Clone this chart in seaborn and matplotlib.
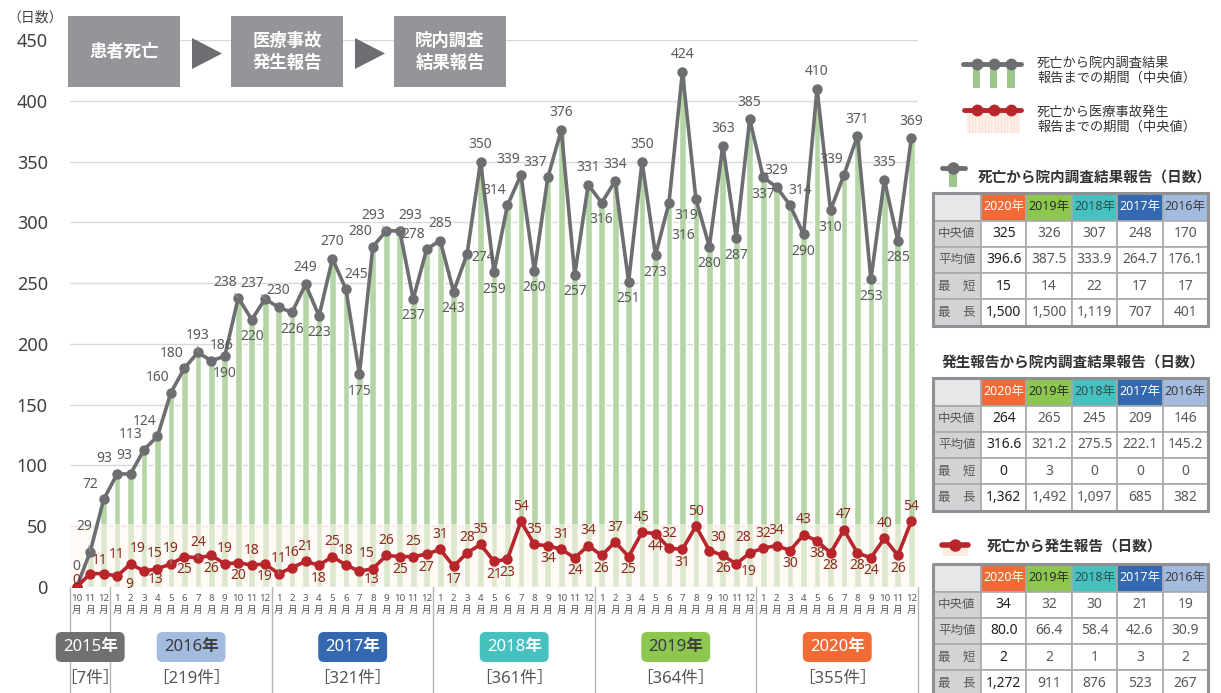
import numpy as np
import pandas as pd
import matplotlib
matplotlib.use("Agg")
import matplotlib.pyplot as plt
import matplotlib.transforms as mtransforms
from matplotlib.patches import Rectangle, Polygon
import seaborn as sns

# ---------------- data ----------------
months = [10, 11, 12] + list(range(1, 13)) * 5

# 死亡から院内調査結果報告までの期間（中央値）
death_to_result = [0, 29, 72,
                   93, 93, 113, 124, 160, 180, 193, 186, 190, 238, 220, 237,
                   230, 226, 249, 223, 270, 245, 175, 280, 293, 293, 237, 278,
                   285, 243, 274, 350, 259, 314, 339, 260, 337, 376, 257, 331,
                   316, 334, 251, 350, 273, 316, 424, 319, 280, 363, 287, 385,
                   337, 329, 314, 290, 410, 310, 339, 371, 253, 335, 285, 369]

# 死亡から医療事故発生報告までの期間（中央値）
death_to_incident = [0, 11, 11,
                     9, 19, 13, 15, 19, 25, 24, 26, 19, 20, 18, 19,
                     11, 16, 21, 18, 25, 18, 13, 15, 26, 25, 25, 27,
                     31, 17, 28, 35, 21, 23, 54, 35, 34, 31, 24, 34,
                     26, 37, 25, 45, 44, 32, 31, 50, 30, 26, 19, 28,
                     32, 34, 30, 43, 38, 28, 47, 28, 24, 40, 26, 54]

year_labels = ["2015年", "2016年", "2017年", "2018年", "2019年", "2020年"]
year_counts = ["［7件］", "［219件］", "［321件］", "［361件］", "［364件］", "［355件］"]
year_month_counts = [3, 12, 12, 12, 12, 12]

table_years = ["2020年", "2019年", "2018年", "2017年", "2016年"]
row_labels = ["中央値", "平均値", "最　短", "最　長"]
table1_title = "死亡から院内調査結果報告（日数）"
table1 = [["325", "326", "307", "248", "170"],
          ["396.6", "387.5", "333.9", "264.7", "176.1"],
          ["15", "14", "22", "17", "17"],
          ["1,500", "1,500", "1,119", "707", "401"]]
table2_title = "発生報告から院内調査結果報告（日数）"
table2 = [["264", "265", "245", "209", "146"],
          ["316.6", "321.2", "275.5", "222.1", "145.2"],
          ["0", "3", "0", "0", "0"],
          ["1,362", "1,492", "1,097", "685", "382"]]
table3_title = "死亡から発生報告（日数）"
table3 = [["34", "32", "30", "21", "19"],
          ["80.0", "66.4", "58.4", "42.6", "30.9"],
          ["2", "2", "1", "3", "2"],
          ["1,272", "911", "876", "523", "267"]]

legend1 = "死亡から院内調査結果\n報告までの期間（中央値）"
legend2 = "死亡から医療事故発生\n報告までの期間（中央値）"
flow_steps = ["患者死亡", "医療事故\n発生報告", "院内調査\n結果報告"]

# ---------------- styles ----------------
GREY = "#6d6e71"
GREEN = "#b5d5a6"
RED = "#b8262c"
RED_TXT = "#8c2a1e"
GREY_TXT = "#5a5a5a"
year_bg = ["#707072", "#a3bbdf", "#3468b0", "#47c1c0", "#8dc750", "#f26a35"]
year_fg = ["white", "#3c3c3c", "white", "white", "#3c3c3c", "white"]
head_bg = ["#f26a35", "#8dc750", "#47c1c0", "#3468b0", "#a3bbdf"]
head_fg = ["white", "#2b2b2b", "#2f4f4f", "white", "#3c3c3c"]

grey_pos = (['a0', 'al2', 'al'] +
            ['al', 'al3', 'al', 'al', 'al', 'al', 'a', 'ar', 'b', 'al', 'b', 'al'] +
            ['a', 'b', 'a', 'b', 'a', 'ar', 'b', 'al', 'al', 'ar', 'b', 'al'] +
            ['a', 'b', 'r', 'a', 'b', 'al', 'al', 'b', 'al', 'a', 'b', 'a'] +
            ['b', 'a', 'b', 'a', 'b', 'br2', 'a', 'bl', 'b', 'a', 'b', 'a'] +
            ['b', 'a', 'ar', 'b', 'a', 'b', 'al', 'a', 'b', 'a', 'b', 'a'])
red_pos = (['as', 'ar', 'ar2'] +
           ['br', 'ar3', 'br', 'al3', 'a', 'b', 'a', 'b', 'a', 'b', 'a', 'b'] +
           ['a', 'a', 'a', 'b', 'a', 'a', 'br', 'al', 'a', 'b', 'a', 'b'] +
           ['a', 'b', 'a', 'a', 'b', 'b', 'a', 'a', 'b', 'a', 'b', 'a'] +
           ['b', 'a', 'b', 'a', 'b', 'a', 'b', 'a', 'ar', 'b', 'br', 'al'] +
           ['a', 'a', 'b', 'a', 'b', 'b', 'a', 'b', 'b', 'a', 'b', 'a'])
grey_off = {'a': (0, 17), 'a0': (0, 21), 'b': (0, -17), 'al': (-13, 15),
            'al2': (-6, 25), 'al3': (-6, 18), 'ar': (10, 15),
            'bl': (-10, -16), 'br': (10, -16), 'br2': (14, -33), 'r': (16, -4)}
red_off = {'a': (0, 15), 'b': (0, -13), 'al': (-6, 15), 'al3': (-3, 15),
           'ar': (9, 13), 'ar2': (13, 19), 'ar3': (7, 15),
           'br': (12, -8), 'as': (0, 6)}
grey_leaders = {1, 9, 12, 14, 23, 24}
red_leaders = {7, 9, 15}

# ---------------- figure ----------------
sns.set_style("white")
plt.rcParams["font.family"] = ["Noto Sans", "Noto Sans CJK JP", "DejaVu Sans"]

W, H = 1221, 693
fig = plt.figure(figsize=(W / 100, H / 100), dpi=100)
ax = fig.add_axes([70 / W, 1 - 587 / H, (918 - 70) / W, (587 - 40) / H])

n = len(death_to_result)
df = pd.DataFrame({"idx": np.arange(n), "result": death_to_result,
                   "incident": death_to_incident})

sns.barplot(data=df, x="idx", y="result", color=GREEN, width=0.5,
            saturation=1, ax=ax, zorder=2)
ax.axhspan(0, 52, facecolor="#fff6f0", alpha=0.55, lw=0, zorder=2.5)
sns.lineplot(data=df, x="idx", y="result", color=GREY, lw=2.6, marker="o",
             markersize=7.5, markeredgewidth=0, ax=ax, zorder=4)
sns.lineplot(data=df, x="idx", y="incident", color=RED, lw=2.6, marker="o",
             markersize=7.5, markeredgewidth=0, ax=ax, zorder=5)


def label(i, v, off, color, lead):
    dx, dy = off
    kw = {}
    if lead:
        kw["arrowprops"] = dict(arrowstyle="-", color="#8a8a8a", lw=0.8,
                                shrinkA=6, shrinkB=5)
    ax.annotate(str(v), (i, v), xytext=(dx, dy), textcoords="offset pixels",
                ha="center", va="center", fontsize=10, color=color, zorder=6,
                **kw)


for i, v in enumerate(death_to_result):
    label(i, v, grey_off[grey_pos[i]], GREY_TXT, i in grey_leaders)
for i, v in enumerate(death_to_incident):
    label(i, v, red_off[red_pos[i]], RED_TXT, i in red_leaders)

ax.set_xlim(-0.5, n - 0.5)
ax.set_ylim(0, 450)
ax.set_yticks(range(0, 451, 50))
ax.set_xticks(range(n))
ax.set_xticklabels([f"{m}\n月" for m in months], fontsize=7, color=GREY_TXT,
                   linespacing=1.45)
ax.tick_params(length=0)
ax.tick_params(axis="y", pad=16, labelsize=13, labelcolor="#404040")
ax.tick_params(axis="x", pad=5)
for s in ax.spines.values():
    s.set_visible(False)
ax.set_xlabel("")
ax.set_ylabel("")
ax.yaxis.grid(True, color="#d9d9d9", lw=1)
ax.xaxis.grid(False)
ax.set_axisbelow(True)

trans = mtransforms.blended_transform_factory(ax.transData, ax.transAxes)
bounds = np.concatenate([[0], np.cumsum(year_month_counts)]) - 0.5
for b in bounds:
    ax.plot([b, b], [0, -0.2], transform=trans, color="#b5b5b5", lw=1,
            clip_on=False)
for k in range(len(year_labels)):
    c = (bounds[k] + bounds[k + 1]) / 2
    ax.text(c, -0.1097, year_labels[k], transform=trans, ha="center",
            va="center", fontsize=12, fontweight="bold", color=year_fg[k],
            bbox=dict(boxstyle="round,pad=0.42,rounding_size=0.35",
                      fc=year_bg[k], ec="none"))
    ax.text(c, -0.168, year_counts[k], transform=trans, ha="center",
            va="center", fontsize=12, color="#555555")

# ---------------- overlay (pixel coordinates) ----------------
ov = fig.add_axes([0, 0, 1, 1], zorder=5)
ov.set_xlim(0, W)
ov.set_ylim(H, 0)
ov.axis("off")
ov.patch.set_visible(False)

ov.text(35, 18, "（日数）", ha="center", va="center", fontsize=10, color="#444444")

# flow boxes
box_x = [68, 231, 394]
for bx, txt in zip(box_x, flow_steps):
    ov.add_patch(Rectangle((bx, 16), 112, 71, fc="#939598", ec="none"))
    ov.text(bx + 56, 52, txt, ha="center", va="center", fontsize=12.5,
            fontweight="bold", color="white", linespacing=1.25)
for tx in [192, 355]:
    ov.add_patch(Polygon([(tx, 38), (tx, 69), (tx + 30, 53.5)], closed=True,
                         fc=GREY, ec="none"))

# legend
lx = [976.5, 993.5, 1011]
for x in lx:
    ov.add_patch(Rectangle((x - 3.8, 64), 7.6, 24, fc="#9dc68b", ec="none"))
ov.plot([963, 1021], [64, 64], color=GREY, lw=3.5, solid_capstyle="round")
ov.plot(lx, [64] * 3, "o", color=GREY, ms=8.5, mew=0)
ov.text(1037, 71, legend1, ha="left", va="center", fontsize=9.5,
        color="#333333", linespacing=1.2)

ov.add_patch(Rectangle((967, 112), 53, 21, fc="#fdeee6", ec="none"))
for x in np.arange(969, 1020, 3.2):
    ov.plot([x, x], [113, 133], color="#fbe0d4", lw=0.6)
ov.plot([964, 1021], [110, 110], color=RED, lw=3.5, solid_capstyle="round")
ov.plot(lx, [110] * 3, "o", color=RED, ms=8.5, mew=0)
ov.text(1037, 120, legend2, ha="left", va="center", fontsize=9.5,
        color="#333333", linespacing=1.2)


def draw_table(y0, data):
    x0, c0w, cw, hh, rh = 933, 48, 45.4, 27.5, 26.3
    ov.add_patch(Rectangle((x0, y0), c0w, hh, fc="#e6e7e8", ec="#a7a9ac", lw=1.2))
    for j, yl in enumerate(table_years):
        cx = x0 + c0w + j * cw
        ov.add_patch(Rectangle((cx, y0), cw, hh, fc=head_bg[j], ec="#a7a9ac", lw=1.2))
        ov.text(cx + cw / 2, y0 + hh / 2, yl, ha="center", va="center",
                fontsize=9, color=head_fg[j])
    for r, rl in enumerate(row_labels):
        ry = y0 + hh + r * rh
        ov.add_patch(Rectangle((x0, ry), c0w, rh, fc="#d1d3d4", ec="#a7a9ac", lw=1.2))
        ov.text(x0 + c0w / 2, ry + rh / 2, rl, ha="center", va="center",
                fontsize=9, color="#58595b")
        for j in range(5):
            cx = x0 + c0w + j * cw
            ov.add_patch(Rectangle((cx, ry), cw, rh, fc="white", ec="#a7a9ac", lw=1.2))
            ov.text(cx + cw / 2, ry + rh / 2, data[r][j], ha="center",
                    va="center", fontsize=10,
                    color="#231f20" if j == 0 else "#58595b")
    tot_w = c0w + 5 * cw
    tot_h = hh + 4 * rh
    ov.add_patch(Rectangle((x0, y0), tot_w, tot_h, fc="none", ec="#8e9093", lw=2.2))


# table 1
ov.add_patch(Rectangle((949, 169), 8, 18, fc="#9dc68b", ec="none"))
ov.plot([942, 965], [168, 168], color=GREY, lw=3.5, solid_capstyle="round")
ov.plot([953], [168], "o", color=GREY, ms=9, mew=0)
ov.text(978, 178, table1_title, ha="left", va="center", fontsize=10.5,
        fontweight="bold", color="#333333")
draw_table(193, table1)

# table 2
ov.text(942, 363, table2_title, ha="left", va="center", fontsize=10.5,
        fontweight="bold", color="#333333")
draw_table(378, table2)

# table 3
ov.add_patch(Rectangle((943, 547), 25, 9, fc="#fdeae0", ec="none"))
ov.plot([942, 968], [545, 545], color=RED, lw=4, solid_capstyle="round")
ov.plot([955], [545], "o", color=RED, ms=9, mew=0)
ov.text(987, 547, table3_title, ha="left", va="center", fontsize=10.5,
        fontweight="bold", color="#333333")
draw_table(564, table3)

fig.savefig("out.png", dpi=100)
